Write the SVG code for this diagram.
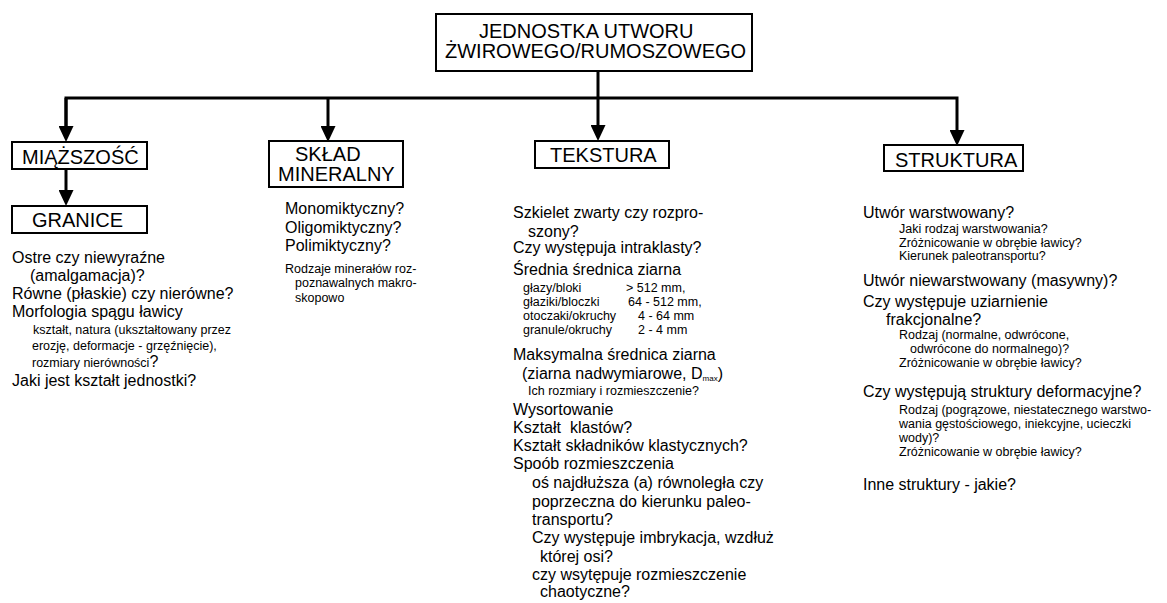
<svg xmlns="http://www.w3.org/2000/svg" width="1167" height="603" viewBox="0 0 1167 603">
<defs>
<style>
text{font-family:"Liberation Sans",Arial,sans-serif;fill:#000}
.box{fill:#fff;stroke:#000;stroke-width:2}
.h{font-size:20px}
.b{font-size:16px}
.s{font-size:12.5px}
.c{fill:none;stroke:#000;stroke-width:3}
</style>
<marker id="ar" markerUnits="userSpaceOnUse" markerWidth="16" markerHeight="15" refX="7" refY="7.5" orient="auto">
<path d="M0,0 L16,7.5 L0,15 z" fill="#000"/>
</marker>
</defs>
<rect width="1167" height="603" fill="#fff"/>
<g id="connectors">
<path class="c" d="M598,71 V132" marker-end="url(#ar)"/>
<path class="c" d="M66,133 V98 H957 V137" marker-end="url(#ar)"/>
<path class="c" d="M66,98 V133" marker-end="url(#ar)"/>
<path class="c" d="M328,98 V133" marker-end="url(#ar)"/>
<path class="c" d="M66,169 V197" marker-end="url(#ar)"/>
</g>
<g id="root">
<rect class="box" x="436" y="14" width="316" height="57"/>
<text class="h" x="479" y="38">JEDNOSTKA UTWORU</text>
<text class="h" x="445" y="58">ŻWIROWEGO/RUMOSZOWEGO</text>
</g>
<g id="miazszosc">
<rect class="box" x="12" y="142" width="135" height="27"/>
<text class="h" x="22" y="164">MIĄŻSZOŚĆ</text>
</g>
<g id="granice">
<rect class="box" x="12" y="206" width="135" height="27"/>
<text class="h" x="32" y="227">GRANICE</text>
<text class="b" x="12" y="263">Ostre czy niewyraźne</text>
<text class="b" x="30" y="281">(amalgamacja)?</text>
<text class="b" x="12" y="299">Równe (płaskie) czy nierówne?</text>
<text class="b" x="12" y="317">Morfologia spągu ławicy</text>
<text class="s" x="33" y="334">kształt, natura (ukształtowany przez</text>
<text class="s" x="32" y="350">erozję, deformacje - grzęźnięcie),</text>
<text class="s" x="32" y="367">rozmiary nierówności<tspan class="b">?</tspan></text>
<text class="b" x="12" y="386">Jaki jest kształt jednostki?</text>
</g>
<g id="sklad">
<rect class="box" x="269" y="141" width="134" height="46"/>
<text class="h" x="295" y="161">SKŁAD</text>
<text class="h" x="278" y="181">MINERALNY</text>
<text class="b" x="285" y="214">Monomiktyczny?</text>
<text class="b" x="285" y="233">Oligomiktyczny?</text>
<text class="b" x="285" y="251">Polimiktyczny?</text>
<text class="s" x="285" y="273">Rodzaje minerałów roz-</text>
<text class="s" x="295" y="287">poznawalnych makro-</text>
<text class="s" x="295" y="302">skopowo</text>
</g>
<g id="tekstura">
<rect class="box" x="535" y="141" width="134" height="27"/>
<text class="h" x="550" y="162">TEKSTURA</text>
<text class="b" x="513" y="218">Szkielet zwarty czy rozpro-</text>
<text class="b" x="528" y="237">szony?</text>
<text class="b" x="513" y="253">Czy występuja intraklasty?</text>
<text class="b" x="513" y="275">Średnia średnica ziarna</text>
<text class="s" x="523" y="292">głazy/bloki</text><text class="s" x="626" y="292">&gt; 512 mm,</text>
<text class="s" x="523" y="306">głaziki/bloczki</text><text class="s" x="628" y="306">64 - 512 mm,</text>
<text class="s" x="523" y="320">otoczaki/okruchy</text><text class="s" x="638" y="320">4 - 64 mm</text>
<text class="s" x="523" y="334">granule/okruchy</text><text class="s" x="638" y="334">2 - 4 mm</text>
<text class="b" x="513" y="360">Maksymalna średnica ziarna</text>
<text class="b" x="522" y="379">(ziarna nadwymiarowe, D<tspan font-size="8" dy="2">max</tspan><tspan dy="-2">)</tspan></text>
<text class="s" x="528" y="395">Ich rozmiary i rozmieszczenie?</text>
<text class="b" x="513" y="415">Wysortowanie</text>
<text class="b" x="513" y="433">Kształt&#160; klastów?</text>
<text class="b" x="513" y="451">Kształt składników klastycznych?</text>
<text class="b" x="513" y="469">Spoób rozmieszczenia</text>
<text class="b" x="532" y="488">oś najdłuższa (a) równoległa czy</text>
<text class="b" x="532" y="507">poprzeczna do kierunku paleo-</text>
<text class="b" x="532" y="525">transportu?</text>
<text class="b" x="532" y="543">Czy występuje imbrykacja, wzdłuż</text>
<text class="b" x="540" y="562">której osi?</text>
<text class="b" x="532" y="580">czy wsytępuje rozmieszczenie</text>
<text class="b" x="540" y="597">chaotyczne?</text>
</g>
<g id="struktura">
<rect class="box" x="884" y="145" width="139" height="26"/>
<text class="h" x="895" y="167">STRUKTURA</text>
<text class="b" x="863" y="218">Utwór warstwowany?</text>
<text class="s" x="899" y="233">Jaki rodzaj warstwowania?</text>
<text class="s" x="899" y="246.5">Zróżnicowanie w obrębie ławicy?</text>
<text class="s" x="899" y="260">Kierunek paleotransportu?</text>
<text class="b" x="863" y="286">Utwór niewarstwowany (masywny)?</text>
<text class="b" x="863" y="307">Czy występuje uziarnienie</text>
<text class="b" x="886" y="325">frakcjonalne?</text>
<text class="s" x="899" y="339">Rodzaj (normalne, odwrócone,</text>
<text class="s" x="910" y="353">odwrócone do normalnego)?</text>
<text class="s" x="899" y="367">Zróżnicowanie w obrębie ławicy?</text>
<text class="b" x="863" y="397">Czy występują struktury deformacyjne?</text>
<text class="s" x="899" y="414">Rodzaj (pogrązowe, niestatecznego warstwo-</text>
<text class="s" x="899" y="428">wania gęstościowego, iniekcyjne, ucieczki</text>
<text class="s" x="899" y="442">wody)?</text>
<text class="s" x="899" y="456">Zróżnicowanie w obrębie ławicy?</text>
<text class="b" x="863" y="490">Inne struktury - jakie?</text>
</g>
</svg>
